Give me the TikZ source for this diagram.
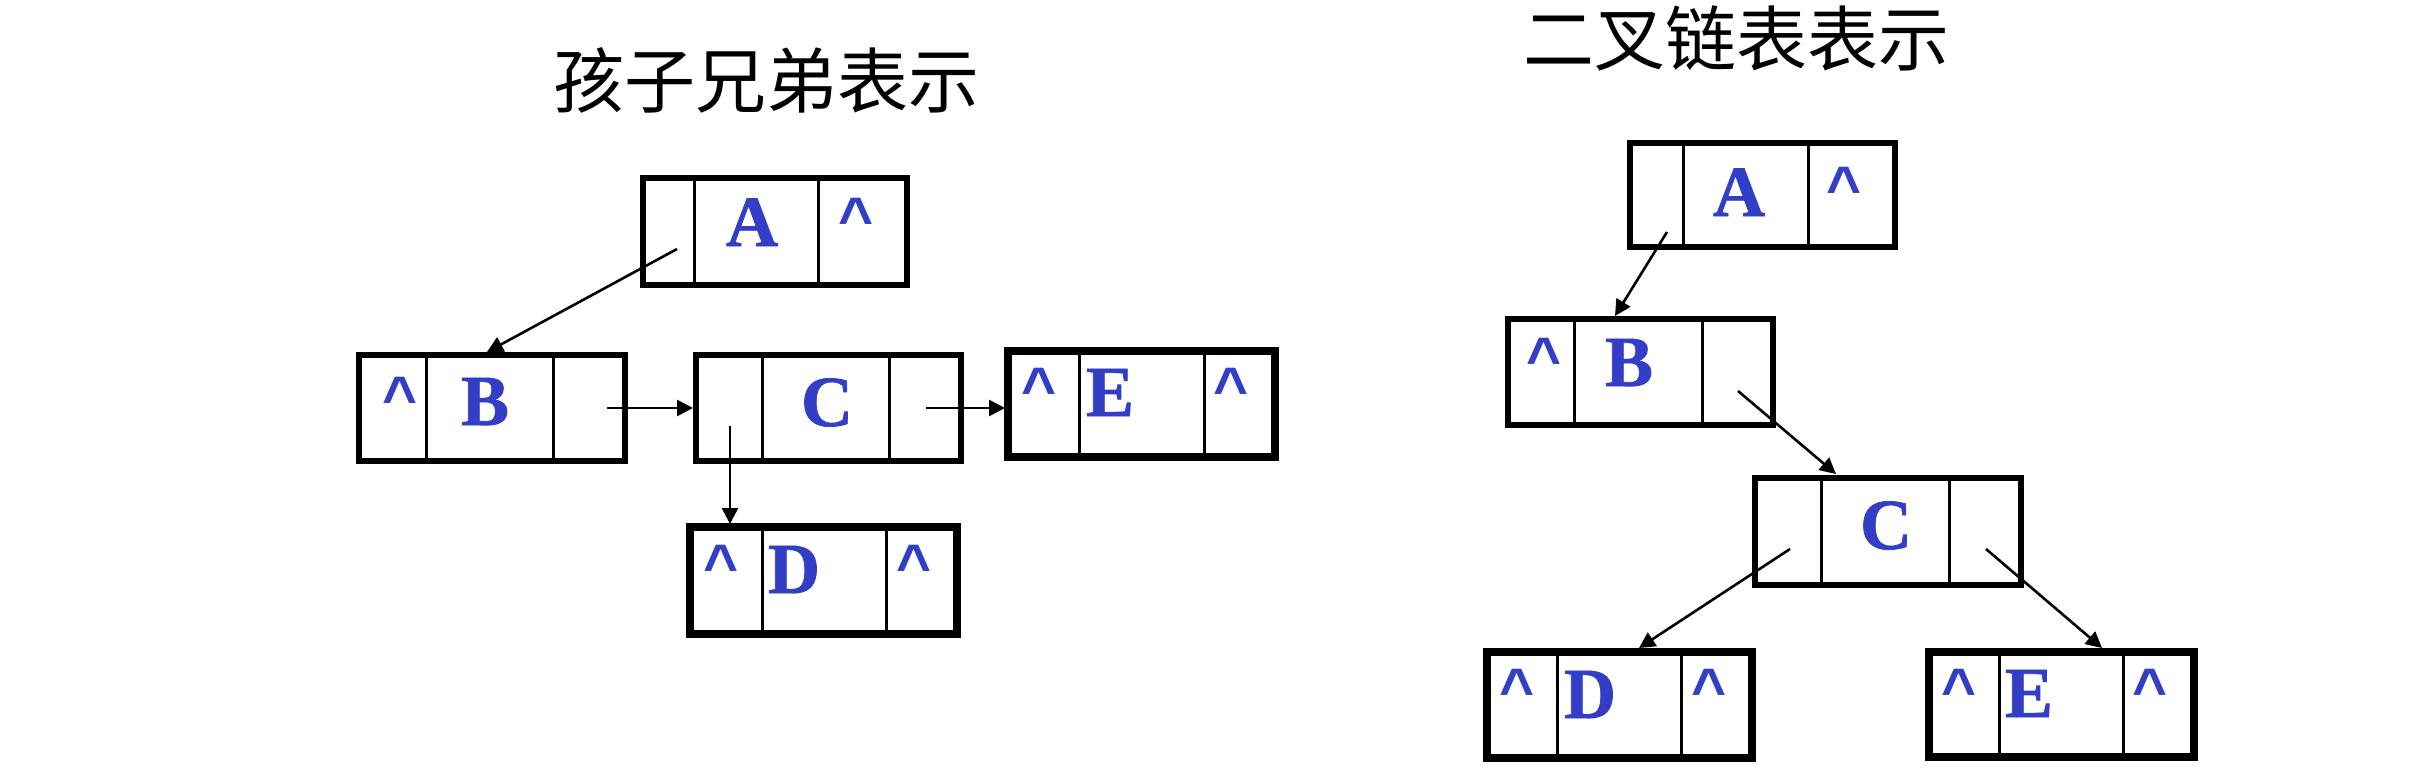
\documentclass[tikz,border=0pt]{standalone}
\usepackage{fontspec}
\setmainfont{Liberation Serif}
\newfontfamily\lblfont{Liberation Serif Bold}[FakeBold=1]
\newfontfamily\crtfont{Liberation Sans Bold}
\newfontfamily\cjkfont{Noto Sans CJK SC}
\usetikzlibrary{arrows.meta}
\definecolor{lblblue}{RGB}{50,62,198}
\tikzset{
  cellframe/.style={draw=black, rectangle, inner sep=0pt, outer sep=0pt},
  divider/.style={draw=black, line width=3pt},
  lbl/.style={inner sep=0pt, text=lblblue, font=\fontsize{72}{80}\lblfont, anchor=base},
  crt/.style={inner sep=0pt, text=lblblue, font=\fontsize{60}{66}\crtfont, anchor=north},
  ptr/.style={draw=black, line width=2.6pt, -{Triangle[length=16pt,width=16pt]}},
  ttl/.style={inner sep=0pt, font=\fontsize{71}{80}\cjkfont},
}
% name, x1, d1, d2, x2, y1, y2, line width
\newcommand{\listbox}[8]{%
  \node[cellframe, line width=#8pt, minimum width={#5-#2}, minimum height={#7-#6}] (#1) at ({(#2+#5)/2},{(#6+#7)/2}) {};
  \draw[divider] (#3,#6) -- (#3,#7);
  \draw[divider] (#4,#6) -- (#4,#7);
}
\begin{document}
\begin{tikzpicture}[x=1pt,y=-1pt]
\useasboundingbox (0,0) rectangle (2422,774);
\fill[white] (0,0) rectangle (2422,774);

% ---------- left: child-sibling ----------
\node[ttl] (t1) at (766,80) {孩子兄弟表示};

\listbox{LA}{643}{694}{818}{907}{178}{285}{6}
\listbox{LB}{359}{426}{553}{625}{355}{461}{6}
\listbox{LC}{696}{762}{889}{961}{355}{461}{6}
\listbox{LE}{1008}{1079}{1204}{1275}{351}{457}{7.5}
\listbox{LD}{690}{762}{886}{957}{527}{634}{7.5}

\node[lbl] (lA) at (752,246) {A};
\node[lbl] (lB) at (485,425) {B};
\node[lbl] (lC) at (827,426) {C};
\node[lbl] (lE) at (1110,416) {E};
\node[lbl] (lD) at (794,593) {D};

\node[crt] (cLA) at (856,198) {\textasciicircum};
\node[crt] (cLB) at (400,377) {\textasciicircum};
\node[crt] (cLE1) at (1039,368) {\textasciicircum};
\node[crt] (cLE2) at (1231,368) {\textasciicircum};
\node[crt] (cLD1) at (721,545) {\textasciicircum};
\node[crt] (cLD2) at (914,545) {\textasciicircum};

\coordinate (pLA) at (677,249);
\coordinate (eLB) at (487,352);
\coordinate (pLB) at (607,408);
\coordinate (eLC) at (693,408);
\coordinate (pLC1) at (730,426);
\coordinate (eLD) at (730,524);
\coordinate (pLC2) at (926,408);
\coordinate (eLE) at (1005,408);

\draw[ptr] (pLA) -- (eLB);
\draw[ptr] (pLB) -- (eLC);
\draw[ptr] (pLC1) -- (eLD);
\draw[ptr] (pLC2) -- (eLE);

% ---------- right: binary linked list ----------
\node[ttl] (t2) at (1736,38) {二叉链表表示};

\listbox{RA}{1630}{1683}{1808}{1895}{143}{247}{6}
\listbox{RB}{1508}{1574}{1702}{1773}{319}{425}{6}
\listbox{RC}{1755}{1821}{1949}{2021}{478}{585}{6}
\listbox{RD}{1487}{1557}{1681}{1752}{652}{758}{8}
\listbox{RE}{1929}{1999}{2123}{2194}{652}{757}{8}

\node[lbl] (rA) at (1739,216) {A};
\node[lbl] (rB) at (1629,386) {B};
\node[lbl] (rC) at (1886,549) {C};
\node[lbl] (rD) at (1590,718) {D};
\node[lbl] (rE) at (2029,717) {E};

\node[crt] (cRA) at (1844,167) {\textasciicircum};
\node[crt] (cRB) at (1544,338) {\textasciicircum};
\node[crt] (cRD1) at (1517,669) {\textasciicircum};
\node[crt] (cRD2) at (1709,669) {\textasciicircum};
\node[crt] (cRE1) at (1959,669) {\textasciicircum};
\node[crt] (cRE2) at (2150,669) {\textasciicircum};

\coordinate (pRA) at (1667,232);
\coordinate (eRB) at (1615,316);
\coordinate (pRB) at (1738,391);
\coordinate (eRC) at (1836,474);
\coordinate (pRC1) at (1790,549);
\coordinate (eRD) at (1639,648);
\coordinate (pRC2) at (1986,549);
\coordinate (eRE) at (2102,648);

\draw[ptr] (pRA) -- (eRB);
\draw[ptr] (pRB) -- (eRC);
\draw[ptr] (pRC1) -- (eRD);
\draw[ptr] (pRC2) -- (eRE);
\end{tikzpicture}
\end{document}
